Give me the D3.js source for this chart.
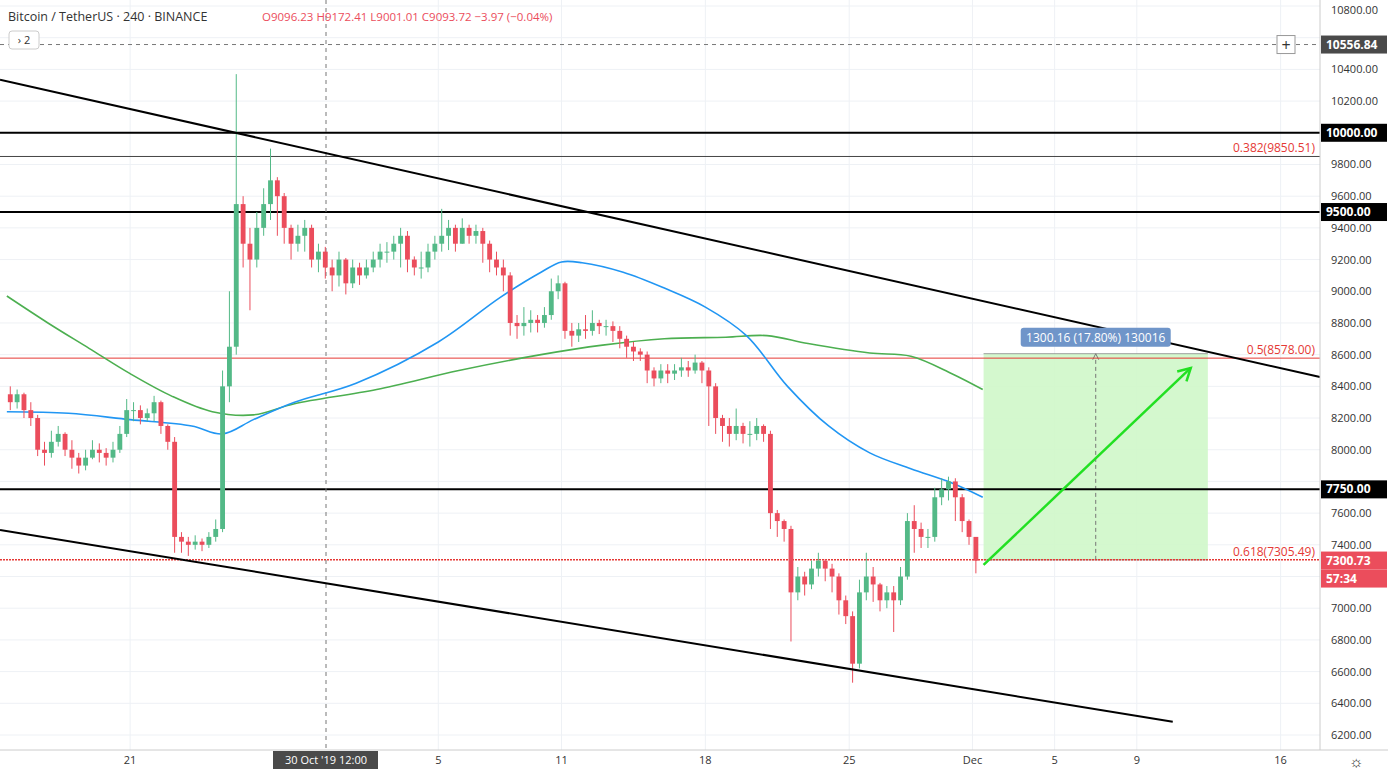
<!DOCTYPE html>
<html><head><meta charset="utf-8">
<script src="https://cdn.jsdelivr.net/npm/d3@7"></script>
<style>body{margin:0;background:#fff;font-family:"Open Sans",Roboto,sans-serif}</style>
</head><body><svg id="c" width="1388" height="775"></svg>
<script>
// 8h candles starting 2019-10-15 00:00 UTC
const firstOpen = 8350;
const closes = [8300,8350,8250, 8200,8000,7980, 8050,8100,8000, 7950,7900,7950, 8000,7980,7950, 8000,8100,8250,
 8250,8200,8230, 8300,8150,8050, 7450,7420,7400, 7420,7400,7450, 7500,8400,8650, 9550,9300,9200,
 9400,9550,9700, 9600,9400,9300, 9350,9400,9200, 9250,9150,9100, 9200,9050,9150, 9100,9150,9200,
 9250,9250,9300, 9350,9200,9150, 9150,9250,9300, 9350,9400,9300, 9400,9350,9380, 9300,9200,9150,
 9100,8800,8780, 8800,8820,8800, 8850,9000,9050, 8750,8720,8760, 8750,8800,8780, 8780,8750,8700,
 8650,8620,8600, 8500,8450,8500, 8480,8500,8520, 8500,8550,8500, 8400,8200,8150, 8100,8150,8100,
 8100,8150,8100, 7600,7550,7500, 7100,7200,7150, 7250,7300,7250, 7200,7050,6950, 6650,7100,7200,
 7150,7050,7100, 7050,7200,7550, 7500,7450,7450, 7700,7750,7800, 7700,7550,7450, 7300];
const highs = [8400,8380,8360, 8300,8220,8050, 8120,8150,8110, 8060,7980,8000, 8060,8040,8010, 8050,8150,8320,
 8300,8280,8260, 8340,8310,8160, 8080,7480,7450, 7460,7440,7480, 7560,8500,9000, 10370,9600,9400,
 9500,9650,9900, 9720,9620,9420, 9420,9450,9420, 9300,9280,9200, 9250,9210,9200, 9180,9200,9250,
 9300,9310,9350, 9400,9380,9220, 9250,9300,9350, 9520,9450,9420, 9460,9420,9420, 9400,9320,9250,
 9200,9120,8850, 8900,8880,8850, 8900,9080,9100, 9060,8800,8800, 8850,8880,8820, 8820,8810,8780,
 8720,8680,8640, 8620,8520,8540, 8540,8540,8580, 8560,8600,8560, 8520,8420,8220, 8200,8260,8170,
 8180,8200,8160, 8120,7620,7560, 7520,7260,7230, 7300,7350,7310, 7280,7220,7080, 6980,7180,7350,
 7260,7160,7140, 7140,7260,7600, 7650,7540,7500, 7760,7820,7830, 7820,7720,7560, 7400];
const lows = [8250,8260,8200, 8150,7960,7900, 7950,8020,7960, 7880,7850,7870, 7940,7920,7900, 7920,7980,8080,
 8180,8160,8180, 8180,8100,8000, 7350,7350,7330, 7370,7360,7380, 7420,7480,8300, 8600,9150,8880,
 9150,9350,9450, 9350,9300,9200, 9250,9250,9150, 9120,9080,9000, 9030,8980,9020, 9040,9080,9120,
 9150,9180,9200, 9150,9120,9100, 9080,9120,9200, 9250,9260,9250, 9300,9300,9300, 9180,9120,9100,
 9000,8720,8700, 8720,8740,8740, 8770,8820,8950, 8700,8650,8680, 8700,8720,8730, 8720,8680,8640,
 8580,8560,8560, 8420,8400,8420, 8420,8440,8460, 8460,8480,8420, 8150,8100,8050, 8020,8060,8040,
 8020,8060,8050, 7500,7450,7420, 6790,7050,7080, 7120,7200,7170, 7100,6960,6900, 6530,6620,7050,
 7040,6980,7000, 6850,7020,7180, 7350,7380,7380, 7420,7650,7680, 7550,7480,7400, 7220];
const blueMA = [["2019-10-15",8240],["2019-10-18",8230],["2019-10-21",8190],["2019-10-24",8150],["2019-10-25T12:00",8100],
 ["2019-10-27",8190],["2019-10-29",8300],["2019-11-01",8420],["2019-11-05",8680],["2019-11-08",8960],["2019-11-10",9120],
 ["2019-11-11",9185],["2019-11-12",9180],["2019-11-14",9120],["2019-11-16",9020],["2019-11-18",8900],["2019-11-20",8720],
 ["2019-11-22",8400],["2019-11-24",8150],["2019-11-26",7980],["2019-11-28",7880],["2019-11-30",7790],["2019-12-01T12:00",7700]];
const greenMA = [["2019-10-15",8970],["2019-10-17",8800],["2019-10-19",8640],["2019-10-21",8480],["2019-10-23",8340],["2019-10-25",8240],
 ["2019-10-27",8220],["2019-10-29",8290],["2019-11-02",8380],["2019-11-06",8500],["2019-11-10",8600],["2019-11-13",8660],
 ["2019-11-16",8700],["2019-11-19",8710],["2019-11-21",8720],["2019-11-23",8670],["2019-11-26",8610],["2019-11-28",8590],
 ["2019-11-30",8480],["2019-12-01T12:00",8380]];
const priceTicks = d3.range(6200, 10801, 200);
const dateTicks = [["2019-10-21","21"],["2019-11-05","5"],["2019-11-11","11"],["2019-11-18","18"],["2019-11-25","25"],
 ["2019-12-01","Dec"],["2019-12-05","5"],["2019-12-09","9"],["2019-12-16","16"]];
const hLines = [[10000,"10000.00"],[9500,"9500.00"],[7750,"7750.00"]];
const upperTrend = [["2019-10-14T16:00",10335],["2019-12-17T22:00",8459]];
const lowerTrend = [["2019-10-14T16:00",7494],["2019-12-10T18:00",6283]];
const fib = [[9850.51,"0.382(9850.51)"],[8578,"0.5(8578.00)"],[7305.49,"0.618(7305.49)"]];
const box = {t0:"2019-12-01T13:00", t1:"2019-12-12T11:00", p0:7305, p1:8606};
const arrow = [["2019-12-01T13:00",7273],["2019-12-11T15:00",8516]];

const svg = d3.select("#c");
const P = new Date(Date.UTC(2019,9,15)).getTime();
const pd = s => new Date(s + (s.length===10?"T00:00:00Z":":00Z"));
const W = 1320, H = 750;
const x = d3.scaleUtc().domain([pd("2019-10-14T16:00"), pd("2019-12-17T22:00")]).range([0, W]);
const y = d3.scaleLinear().domain([6200,10800]).range([735,6]);

const g = svg.append("g");
priceTicks.forEach(p => g.append("line").attr("x1",0).attr("x2",W).attr("y1",y(p)).attr("y2",y(p)).attr("stroke","#eef1f5"));
dateTicks.forEach(([d]) => g.append("line").attr("x1",x(pd(d))).attr("x2",x(pd(d))).attr("y1",0).attr("y2",H).attr("stroke","#eef1f5"));

svg.append("rect").attr("x",x(pd(box.t0))).attr("width",x(pd(box.t1))-x(pd(box.t0)))
 .attr("y",y(box.p1)).attr("height",y(box.p0)-y(box.p1)).attr("fill","#cff7c9").attr("opacity",0.9);
svg.append("line").attr("x1",x(pd(box.t0))).attr("x2",x(pd(box.t1))).attr("y1",y(box.p1)).attr("y2",y(box.p1)).attr("stroke","#888").attr("stroke-width",0.8);
svg.append("line").attr("x1",x(pd(box.t0))).attr("x2",x(pd(box.t1))).attr("y1",y(box.p0)).attr("y2",y(box.p0)).attr("stroke","#888").attr("stroke-width",0.8);
const midT = new Date((pd(box.t0).getTime()+pd(box.t1).getTime())/2);
svg.append("line").attr("x1",x(midT)).attr("x2",x(midT)).attr("y1",y(box.p0)).attr("y2",y(box.p1)+4).attr("stroke","#777").attr("stroke-dasharray","4,3");
svg.append("path").attr("d",`M${x(midT)-3},${y(box.p1)+6}L${x(midT)},${y(box.p1)}L${x(midT)+3},${y(box.p1)+6}`).attr("fill","none").attr("stroke","#777");

svg.append("line").attr("x1",0).attr("x2",W).attr("y1",y(10556.84)).attr("y2",y(10556.84)).attr("stroke","#777").attr("stroke-dasharray","4,4");
hLines.forEach(([p]) => svg.append("line").attr("x1",0).attr("x2",W).attr("y1",y(p)).attr("y2",y(p)).attr("stroke","#000").attr("stroke-width",2));
svg.append("line").attr("x1",0).attr("x2",W).attr("y1",y(fib[0][0])).attr("y2",y(fib[0][0])).attr("stroke","#444").attr("stroke-width",1);
svg.append("line").attr("x1",0).attr("x2",W).attr("y1",y(fib[1][0])).attr("y2",y(fib[1][0])).attr("stroke","#e53935").attr("stroke-width",1);
svg.append("line").attr("x1",0).attr("x2",W).attr("y1",y(fib[2][0])).attr("y2",y(fib[2][0])).attr("stroke","#e53935").attr("stroke-width",1.5).attr("stroke-dasharray","2,1");
fib.forEach(([p,t]) => svg.append("text").attr("x",1315).attr("y",y(p)-4).attr("text-anchor","end").attr("fill","#e53935").attr("font-size",12).text(t));

svg.append("line").attr("x1",326).attr("x2",326).attr("y1",0).attr("y2",H).attr("stroke","#777").attr("stroke-dasharray","4,4");

const line = d3.line().x(d=>x(pd(d[0]))).y(d=>y(d[1])).curve(d3.curveCatmullRom);
svg.append("path").attr("d",line(greenMA)).attr("fill","none").attr("stroke","#4caf50").attr("stroke-width",1.6);
svg.append("path").attr("d",line(blueMA)).attr("fill","none").attr("stroke","#2196f3").attr("stroke-width",1.6);

const step = 8*3600*1000;
const cw = x(new Date(P+step)) - x(new Date(P)) - 2;
closes.forEach((c,i) => {
  const o = i===0 ? firstOpen : closes[i-1];
  const cx = x(new Date(P + i*step + step/2));
  const col = c>=o ? "#53b987" : "#eb4d5c";
  svg.append("line").attr("x1",cx).attr("x2",cx).attr("y1",y(highs[i])).attr("y2",y(lows[i])).attr("stroke",col);
  svg.append("rect").attr("x",cx-cw/2).attr("width",cw).attr("y",y(Math.max(o,c))).attr("height",Math.max(1,Math.abs(y(o)-y(c)))).attr("fill",col);
});

const tl = d3.line().x(d=>x(pd(d[0]))).y(d=>y(d[1]));
svg.append("path").attr("d",tl(upperTrend)).attr("stroke","#000").attr("stroke-width",2);
svg.append("path").attr("d",tl(lowerTrend)).attr("stroke","#000").attr("stroke-width",2);

const ax0 = x(pd(arrow[0][0])), ay0 = y(arrow[0][1]), ax1 = x(pd(arrow[1][0])), ay1 = y(arrow[1][1]);
svg.append("line").attr("x1",ax0).attr("y1",ay0).attr("x2",ax1).attr("y2",ay1).attr("stroke","#22e022").attr("stroke-width",2.5);
const ang = Math.atan2(ay1-ay0, ax1-ax0);
const hd = (a)=>[ax1-14*Math.cos(ang+a), ay1-14*Math.sin(ang+a)];
svg.append("path").attr("d",`M${hd(0.5)}L${ax1},${ay1}L${hd(-0.5)}`).attr("fill","none").attr("stroke","#22e022").attr("stroke-width",2.5);

// measure label on top
svg.append("rect").attr("x",x(midT)-75).attr("y",y(box.p1)-26).attr("width",150).attr("height",19).attr("rx",3).attr("fill","#6f95c9");
svg.append("text").attr("x",x(midT)).attr("y",y(box.p1)-12).attr("text-anchor","middle").attr("fill","#fff").attr("font-size",12).text("1300.16 (17.80%) 130016");

// right axis
svg.append("rect").attr("x",W).attr("y",0).attr("width",68).attr("height",775).attr("fill","#fff");
svg.append("line").attr("x1",W).attr("x2",W).attr("y1",0).attr("y2",750).attr("stroke","#ccc");
const tagYs = [...hLines.map(h=>y(h[0])), y(10556.84), y(7300.73), y(7300.73)+18];
priceTicks.filter(p => tagYs.every(ty => Math.abs(ty - y(p)) > 13))
  .forEach(p => svg.append("text").attr("x",1331).attr("y",Math.max(14,y(p)+4)).attr("font-size",11).attr("fill","#333").text(p.toFixed(2)));
const tag = (yy,t,bg) => { svg.append("rect").attr("x",1321).attr("y",yy-9).attr("width",66).attr("height",18).attr("fill",bg);
  svg.append("text").attr("x",1326).attr("y",yy+4).attr("font-size",12).attr("font-weight","bold").attr("fill","#fff").text(t); };
hLines.forEach(([p,t]) => tag(y(p),t,"#000"));
tag(y(10556.84),"10556.84","#4a4a4a");
tag(y(7300.73),"7300.73","#eb4d5c");
tag(y(7300.73)+18,"57:34","#eb4d5c");
svg.append("rect").attr("x",1277).attr("y",y(10556.84)-9).attr("width",18).attr("height",18).attr("fill","#fff").attr("stroke","#999");
svg.append("text").attr("x",1286).attr("y",y(10556.84)+6).attr("text-anchor","middle").attr("font-size",16).attr("fill","#333").text("+");

// bottom axis
svg.append("rect").attr("x",0).attr("y",750).attr("width",1388).attr("height",25).attr("fill","#fff");
svg.append("line").attr("x1",0).attr("x2",1388).attr("y1",750).attr("y2",750).attr("stroke","#ccc");
dateTicks.forEach(([d,t]) => svg.append("text").attr("x",x(pd(d))).attr("y",764).attr("text-anchor","middle").attr("font-size",11).attr("fill","#333").text(t));
svg.append("rect").attr("x",273).attr("y",751).attr("width",105).attr("height",18).attr("fill","#4a4a4a");
svg.append("text").attr("x",326).attr("y",764).attr("text-anchor","middle").attr("font-size",11).attr("fill","#fff").text("30 Oct '19   12:00");
svg.append("text").attr("x",1356).attr("y",767).attr("text-anchor","middle").attr("font-size",16).attr("fill","#333").text("☼");

// header
svg.append("text").attr("x",8).attr("y",21).attr("font-size",12.5).attr("fill","#333").text("Bitcoin / TetherUS · 240 · BINANCE");
svg.append("text").attr("x",262).attr("y",21).attr("font-size",11.5).attr("fill","#eb4d5c").text("O9096.23 H9172.41 L9001.01 C9093.72 −3.97 (−0.04%)");
svg.append("rect").attr("x",9).attr("y",31).attr("width",30).attr("height",18).attr("rx",3).attr("fill","#fff").attr("stroke","#ccc");
svg.append("text").attr("x",24).attr("y",44).attr("text-anchor","middle").attr("font-size",11).attr("fill","#333").text("›  2");
</script></body></html>
